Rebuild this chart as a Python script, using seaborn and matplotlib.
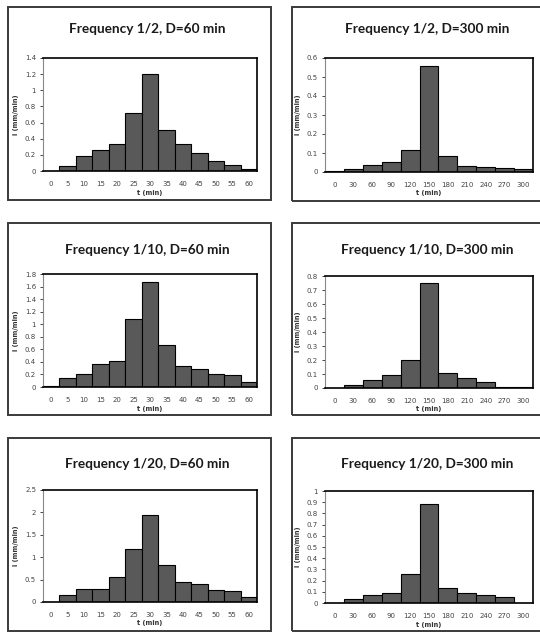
import matplotlib
matplotlib.use("Agg")
import matplotlib.pyplot as plt
from matplotlib.patches import Rectangle
import pandas as pd
import seaborn as sns

sns.set_style("white")
plt.rcParams["font.family"] = ["DejaVu Sans"]

# ─── dados ────────────────────────────────────────────────────────────────────
t_60 = [0, 5, 10, 15, 20, 25, 30, 35, 40, 45, 50, 55, 60]
t_300 = [0, 30, 60, 90, 120, 150, 180, 210, 240, 270, 300]

i_2_60 = [0.005, 0.06, 0.18, 0.26, 0.33, 0.72, 1.20, 0.51, 0.33, 0.22, 0.12, 0.07, 0.03]
i_2_300 = [0.003, 0.018, 0.035, 0.053, 0.115, 0.56, 0.083, 0.030, 0.027, 0.022, 0.017]
i_10_60 = [0.01, 0.15, 0.21, 0.36, 0.42, 1.08, 1.68, 0.67, 0.33, 0.29, 0.20, 0.19, 0.08]
i_10_300 = [0.001, 0.025, 0.055, 0.095, 0.20, 0.75, 0.11, 0.075, 0.045, 0.008, 0.004]
i_20_60 = [0.01, 0.16, 0.28, 0.30, 0.55, 1.18, 1.95, 0.82, 0.44, 0.40, 0.27, 0.25, 0.12]
i_20_300 = [0.001, 0.035, 0.072, 0.085, 0.255, 0.88, 0.135, 0.09, 0.072, 0.058, 0.0]

titles = ["Frequency 1/2, D=60 min", "Frequency 1/2, D=300 min",
          "Frequency 1/10, D=60 min", "Frequency 1/10, D=300 min",
          "Frequency 1/20, D=60 min", "Frequency 1/20, D=300 min"]
ymax = [1.4, 0.6, 1.8, 0.8, 2.5, 1.0]
ystep = [0.2, 0.1, 0.2, 0.1, 0.5, 0.1]

W, H = 540, 632
fig = plt.figure(figsize=(W / 100, H / 100), dpi=100)


def fx(px):
    return px / W


def fy(py):
    return 1 - py / H


# caixas (px): x0, y0, x1, y1
boxes = [(8, 7, 271, 200), (292, 7, 545, 201),
         (8, 223, 271, 415), (292, 223, 545, 415),
         (8, 438, 271, 631), (292, 438, 545, 631)]
# eixos (px): x0, y0(top), x1, y1(bottom)
axes_px = [(43, 58, 257, 171), (325, 58, 533, 172),
           (43, 274, 257, 387), (325, 276, 533, 388),
           (43, 490, 257, 602), (325, 491, 533, 603)]

series = [(t_60, i_2_60), (t_300, i_2_300),
          (t_60, i_10_60), (t_300, i_10_300),
          (t_60, i_20_60), (t_300, i_20_300)]


def fmt(v):
    s = f"{v:.1f}"
    return s[:-2] if s.endswith(".0") else s


for k in range(6):
    bx0, by0, bx1, by1 = boxes[k]
    fig.patches.append(Rectangle((fx(bx0), fy(by1)), fx(bx1 - bx0), (by1 - by0) / H,
                                 transform=fig.transFigure, fill=False,
                                 edgecolor="#3a3a3a", lw=1.4))
    x0, y0, x1, y1 = axes_px[k]
    ax = fig.add_axes([fx(x0), fy(y1), fx(x1 - x0), (y1 - y0) / H])
    t, v = series[k]
    df = pd.DataFrame({"t": [str(x) for x in t], "i": v})
    sns.barplot(data=df, x="t", y="i", order=df["t"], color="#595959",
                width=1.0, edgecolor="black", linewidth=0.8, saturation=1, ax=ax)
    ax.set_xlim(-0.5, len(t) - 0.5)
    ax.set_ylim(0, ymax[k])
    n = int(round(ymax[k] / ystep[k]))
    ticks = [round(j * ystep[k], 2) for j in range(n + 1)]
    ax.set_yticks(ticks)
    ax.set_yticklabels([fmt(x) for x in ticks])
    ax.tick_params(axis="y", labelsize=5, length=2, width=0.6, pad=3, left=True,
                   labelcolor="#444444")
    ax.tick_params(axis="x", labelsize=5, length=0, pad=7, labelcolor="#444444")
    for s in ax.spines.values():
        s.set_color("black")
        s.set_linewidth(1.2)
    ax.spines["left"].set_color("#888888")
    ax.spines["left"].set_linewidth(0.8)
    ax.set_xlabel("t (min)", fontsize=4.8, fontweight="bold", labelpad=2, color="#333333")
    ax.set_ylabel("i (mm/min)", fontsize=4.8, fontweight="bold", labelpad=4, color="#333333")
    cx = 147 if k % 2 == 0 else 427
    ty = [29, 29, 250, 250, 464, 464][k]
    fig.text(fx(cx), fy(ty), titles[k], ha="center", va="center",
             fontsize=9.8, fontweight="bold", color="#1a1a1a",
             family=["Lato", "DejaVu Sans"])

fig.savefig("out.png", dpi=100)
